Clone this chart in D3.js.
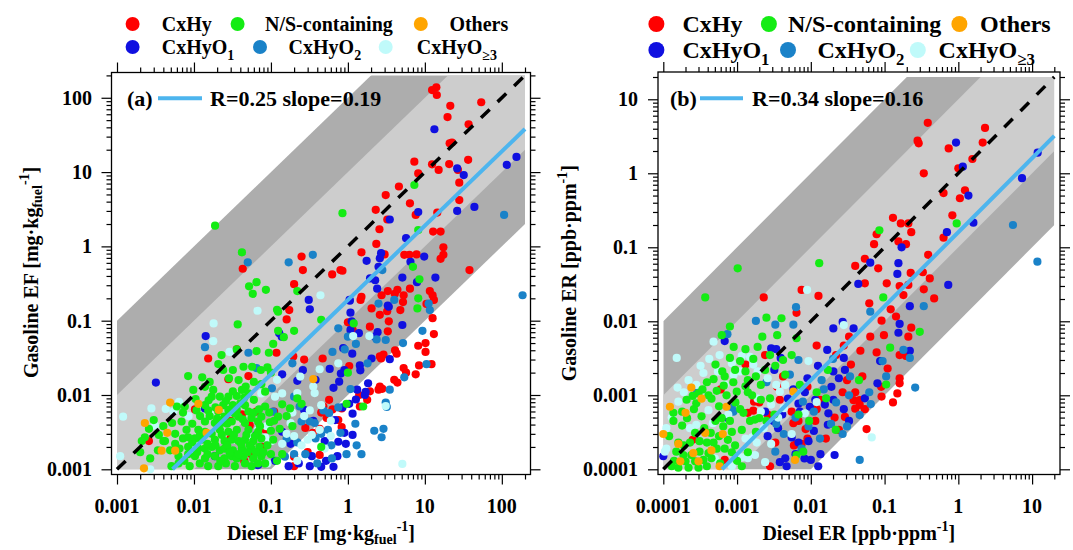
<!DOCTYPE html>
<html>
<head>
<meta charset="utf-8">
<script src="https://cdn.jsdelivr.net/npm/d3@7"></script>
<style>
  body { margin: 0; background: #fff; }
  text { font-family: "Liberation Serif", "Times New Roman", serif; font-weight: bold; fill: #000; }
</style>
</head>
<body>
<svg id="chart" width="1073" height="550"></svg>
<script>
// categories & colours
const categories = ["CxHy", "N/S-containing", "Others", "CxHyO", "CxHyO", "CxHyO"];
const catSubs = ["", "", "", "1", "2", "\u22653"];
const catColors = ["#ff0000", "#14ec14", "#ffa500", "#1010e0", "#1a82c8", "#c0fafa"];
const drawOrder = [0, 3, 4, 5, 1, 2];

// tick labels
const majorA = [0.001, 0.01, 0.1, 1, 10, 100];
const labelsA = ["0.001", "0.01", "0.1", "1", "10", "100"];
const majorB = [0.0001, 0.001, 0.01, 0.1, 1, 10];
const labelsB = ["0.0001", "0.001", "0.01", "0.1", "1", "10"];

// fit results
const fitR = [0.25, 0.34];
const fitSlope = [0.19, 0.16];

// ---------- panel (a): EF, mg/kg fuel  [diesel, gasoline] ----------
const cxhyA = [
  [12.4,127],[14.1,138],[14.3,109],[21.4,78],[54,87],[19.7,55],[37,44],[21,24.4],[22.5,25],[7.3,13.8],
  [12.4,12.7],[15.1,10.7],[20.7,12.8],[26.9,10.7],[8.2,9.6],[36.5,14.6],[28,7.2],[28,4.2],[4.6,6.4],[6.4,3.8],
  [7.6,2.65],[14.5,2.85],[3.1,4.9],[3.25,2.3],[2.3,3.1],[2.57,1.7],[12.8,1.58],[16,1.58],[17.4,0.97],[17.4,0.77],
  [16,0.68],[38,0.48],[2.34,1.08],[3.0,0.78],[1.5,0.83],[5.4,0.77],[6.3,0.77],[7.8,0.78],[0.625,0.42],[0.8,0.48],
  [0.85,0.47],[0.25,0.73],[0.26,0.48],[0.2,0.31],[0.043,0.5],
  [1.5,0.21],[2.74,0.22],[3.3,0.25],[4.07,0.23],[4.4,0.26],[5.3,0.22],[6.4,0.27],[11.6,0.25],[12.6,0.22],[13.1,0.19],
  [1.46,0.19],[2.03,0.146],[2.6,0.12],[3.24,0.134],[3.4,0.098],[4.8,0.139],[5.2,0.178],[10.5,0.168],[12.6,0.108],[1.93,0.083],
  [3.3,0.072],[1.0,0.095],[1.15,0.075],[13.1,0.066],[8.2,0.046],[10.2,0.05],[10.2,0.038],[8.4,0.025],[12.2,0.026],[7.6,0.019],
  [4.1,0.04],[4.3,0.036],[2.7,0.031],[2.9,0.035],[5.3,0.023],[5.7,0.02],[4.0,0.016],[4.4,0.0147],[2.6,0.013],[2.5,0.0118],
  [2.8,0.0121],[1.93,0.0112],[2.6,0.033],[1.78,0.0086],[1.43,0.007],[1.4,0.01],[0.83,0.0066],[0.63,0.0064],[0.45,0.0058],[0.53,0.0049],
  [0.75,0.0046],[0.83,0.0037],[0.43,0.0035],[0.35,0.0031],[0.43,0.00156],[0.3,0.0017],[0.28,0.0036],[0.2,0.00148],[0.57,0.0086],[0.48,0.007],
  [0.27,0.03],[0.47,0.031],[1.04,0.0245],[0.195,0.033],[0.173,0.139],[0.16,0.104],
  [0.0153,0.031],[0.118,0.037],[0.028,0.0163],[0.051,0.018],[0.0103,0.0064],[0.065,0.006],[0.076,0.002],[0.0026,0.0024],
  [0.053,0.0039],[0.042,0.0055],[0.056,0.0016],[0.036,0.041],
  [0.03,0.0045],[0.085,0.0034],[0.11,0.006],[0.16,0.0029],[0.03,0.0026],[0.045,0.0013],[0.2,0.0011]
];
const nsA = [
  [0.0188,1.9],[0.042,0.83],[0.052,0.29],[0.058,0.23],[0.065,0.33],[0.086,0.26],[0.85,2.8],[7.3,6.7],[8.2,1.66],[7.0,0.53],
  [8.5,0.36],[8.2,0.2],[0.22,0.25],[0.12,0.14],[8.0,0.146],[1.19,0.092],[1.0,0.02],[0.96,0.0076],[1.58,0.007],[0.25,0.0076],
  [0.177,0.0066],[0.45,0.002],[0.147,0.06],[0.2,0.073],[0.45,0.103],[0.11,0.0045],[0.13,0.0035],[0.12,0.0013],[0.14,0.0016],[0.16,0.0052],
  [0.19,0.0038],[0.14,0.0075],[0.22,0.009],[0.004,0.0024],[0.002,0.0017],
  [0.037,0.089],[0.124,0.132],[0.107,0.0487],[0.094,0.037],[0.065,0.039],[0.0228,0.0345],[0.036,0.041],[0.124,0.073],
  [0.0084,0.018],[0.0128,0.0173],[0.024,0.0217],[0.0285,0.0168],[0.038,0.0159],[0.044,0.024],[0.057,0.024],[0.074,0.0217],[0.09,0.0235],[0.0207,0.0261],[0.032,0.0217],
  [0.0098,0.0117],[0.0139,0.0129],[0.0178,0.0117],[0.0217,0.0095],[0.028,0.0095],[0.036,0.0097],[0.017,0.0095],[0.042,0.0117],[0.051,0.0105],[0.084,0.0111],
  [0.006,0.007],[0.0076,0.007],[0.0108,0.0062],[0.0139,0.0073],[0.0153,0.0062],[0.0207,0.006],[0.024,0.0073],[0.032,0.0073],[0.04,0.0077],[0.028,0.0063],
  [0.036,0.0063],[0.046,0.0073],[0.051,0.006],[0.084,0.007],
  [0.003,0.0046],[0.004,0.0038],[0.0069,0.0044],[0.008,0.0034],[0.0114,0.0034],[0.0139,0.0044],[0.016,0.0052],[0.0187,0.0042],[0.0228,0.0042],[0.025,0.0051],
  [0.031,0.0044],[0.038,0.0051],[0.046,0.0042],[0.056,0.0049],[0.068,0.0044],[0.075,0.0051],[0.097,0.0043],[0.124,0.0051],
  [0.0026,0.0035],[0.0023,0.0027],[0.0042,0.0024],[0.0057,0.003],[0.0072,0.0026],[0.0084,0.0027],[0.0103,0.0026],[0.0125,0.0025],[0.0139,0.0032],[0.017,0.003],
  [0.0187,0.0025],[0.0217,0.0034],[0.025,0.0024],[0.028,0.0032],[0.031,0.0025],[0.036,0.0034],[0.038,0.0024],[0.046,0.0025],[0.051,0.0034],[0.059,0.0024],
  [0.068,0.0032],[0.075,0.0026],[0.107,0.0025],
  [0.0021,0.0024],[0.0034,0.0018],[0.0049,0.0018],[0.0057,0.0022],[0.0084,0.002],[0.0114,0.0019],[0.0139,0.0019],[0.017,0.002],[0.0217,0.0018],[0.025,0.0019],
  [0.032,0.0018],[0.042,0.0019],[0.056,0.0019],[0.071,0.002],
  [0.0027,0.0014],[0.0051,0.0011],[0.0063,0.0015],[0.0063,0.0012],[0.0084,0.0016],[0.0088,0.0011],[0.0103,0.0015],[0.0119,0.0012],[0.0139,0.0014],[0.0153,0.0011],
  [0.0187,0.0015],[0.0207,0.0011],[0.025,0.0014],[0.026,0.0012],[0.031,0.0015],[0.034,0.0011],[0.036,0.0014],[0.044,0.0015],[0.046,0.0012],[0.056,0.0011],
  [0.059,0.0014],[0.068,0.0012],[0.075,0.0015],[0.084,0.0012],
  [0.0065,0.0019],[0.0095,0.0023],[0.012,0.0029],[0.015,0.0022],[0.019,0.0021],[0.023,0.0029],[0.027,0.0021],[0.033,0.0029],[0.041,0.0022],[0.048,0.0029],
  [0.053,0.0021],[0.062,0.0028],[0.09,0.0021],[0.0095,0.0041],[0.012,0.0052],[0.02,0.0048],[0.027,0.0041],[0.034,0.0056],[0.043,0.0047],[0.06,0.0058],
  [0.072,0.0038],[0.0155,0.0085],[0.019,0.0068],[0.026,0.0083],[0.032,0.0112],[0.045,0.0092],[0.06,0.0086],[0.07,0.0064],[0.095,0.0058],[0.1,0.0033],
  [0.015,0.0016],[0.022,0.0013],[0.029,0.0017],[0.038,0.0016],[0.05,0.0017],[0.064,0.0017],[0.08,0.0017],[0.1,0.0016],[0.0075,0.0013],[0.011,0.0017],
  [0.06,0.015],[0.075,0.014],[0.1,0.02],[0.047,0.013],[0.016,0.015],[0.0105,0.0088],[0.0072,0.0058],[0.0052,0.0042],[0.0035,0.0029]
];
const othersA = [
  [0.0049,0.0079],[0.0114,0.0076],[0.021,0.0063],[0.0023,0.0042],[0.0045,0.0031],[0.0038,0.00178],[0.0057,0.00178],
  [0.00224,0.00103],[0.0146,0.0031],[0.355,0.0164]
];
const o1A = [
  [13.3,37.7],[26.3,11.2],[32,9.1],[8.2,2.9],[26.3,3.0],[44,3.4],[3.5,2.3],[5.7,1.29],[6.5,0.62],[9.8,0.73],
  [2.7,0.81],[2.6,0.69],[1.75,0.64],[2.5,0.53],[1.94,0.37],[2.26,0.35],[5.1,0.38],[7.9,0.33],[13.7,0.38],[2.4,0.27],
  [3.4,0.154],[1.05,0.19],[0.31,0.19],[116,12.5],[155,16],
  [0.32,0.142],[1.08,0.128],[1.12,0.098],[1.06,0.186],[3.3,0.16],[5.1,0.0875],[1.39,0.068],[1.08,0.075],[2.43,0.07],[2.24,0.061],
  [1.14,0.036],[0.87,0.0426],[0.58,0.0224],[0.81,0.0194],[0.9,0.0216],[0.77,0.0151],[1.43,0.025],[1.45,0.0215],[2.03,0.031],[3.5,0.0303],
  [1.83,0.0144],[1.32,0.0118],[1.66,0.01],[1.27,0.0087],[0.22,0.0155],[0.65,0.0125],[1.04,0.0076],[0.85,0.0068],[1.15,0.0056],[0.355,0.0045],
  [0.68,0.0046],[0.75,0.00235],[0.94,0.0022],[1.15,0.0029],[0.73,0.0015],[0.65,0.00108],[0.45,0.00108],[0.32,0.0011],[0.17,0.0011],[0.34,0.0015],
  [0.26,0.0216],[0.38,0.016],[1.7,0.011],[0.138,0.061],
  [0.0032,0.0147],[0.0142,0.062],[0.0139,0.0066],[0.128,0.068],[0.068,0.00114],[0.113,0.0013],[0.0187,0.0015],[0.065,0.0029],
  [0.18,0.0022],[0.5,0.0024],[0.52,0.0013],[0.23,0.0012],[0.14,0.0032],[0.9,0.0031],[0.27,0.0063],[0.14,0.019]
];
const o2A = [
  [0.05,0.61],[0.17,0.61],[0.35,0.77],[2.8,0.48],[107,2.65],[186,0.22],[11.2,0.17],[2.5,0.17],[4.0,0.19],
  [11.6,0.139],[0.75,0.079],[1.0,0.061],[1.27,0.0486],[2.36,0.056],[3.1,0.055],[5.2,0.05],[9.3,0.073],[10.5,0.026],[5.4,0.0173],
  [3.5,0.0118],[3.1,0.0079],[3.2,0.0069],[2.2,0.0033],[2.9,0.0035],[2.74,0.0027],[1.5,0.0016],[0.63,0.038],[0.91,0.041],[1.8,0.0267],
  [1.08,0.012],[0.75,0.0068],[0.48,0.0062],[0.57,0.0057],[0.25,0.0044],[0.32,0.0044],[0.152,0.00148],[0.2,0.0016],[0.28,0.0016],[0.96,0.0016],
  [0.61,0.0021],[0.2,0.0095],
  [0.0139,0.044],[0.051,0.037],[0.065,0.023],[0.107,0.006],[0.103,0.0123],[0.19,0.0267],[0.236,0.007],[0.37,0.0042],
  [0.38,0.0026],[0.22,0.0023],[0.45,0.003],[0.55,0.0034],[0.62,0.0014],[0.16,0.0026],[0.4,0.0012],[1.25,0.0041],[1.3,0.0021],[0.8,0.0031]
];
const o3A = [
  [0.44,0.22],[0.75,0.0267],[0.43,0.0222],[1.17,0.062],[1.9,0.062],[0.355,0.013],[0.37,0.0106],[0.22,0.0106],[0.45,0.0073],[0.32,0.0062],
  [0.34,0.0029],[0.43,0.0034],[3.1,0.0071],[5.1,0.00118],[0.24,0.0177],
  [0.0011,0.0015],[0.0028,0.0066],[0.0031,0.0039],[0.0064,0.0081],[0.0178,0.053],[0.029,0.038],[0.067,0.136],[0.032,0.0025],[0.068,0.0034],[0.084,0.0027],
  [0.102,0.0024],[0.0108,0.002],[0.113,0.0095],[0.0027,0.001],[0.0054,0.006],[0.051,0.0029],[0.088,0.0038],[0.075,0.0105],
  [0.018,0.092],[0.12,0.016],[0.0012,0.0051],[0.18,0.0042],[0.16,0.003],
  [0.14,0.0022],[0.2,0.0028],[0.25,0.0021],[0.3,0.0025],[0.5,0.0019],[0.6,0.0028],[0.27,0.0052],[0.19,0.0058],[0.14,0.0105],[0.6,0.0045],
  [0.09,0.0012],[0.22,0.0013],[0.0085,0.0052],[0.0043,0.0065],[0.016,0.0058]
];

// ---------- panel (b): ER, ppb/ppm  [diesel, gasoline] ----------
const cxhyB = [
  [0.385,4.8],[0.28,2.76],[0.29,2.54],[2.3,4.1],[2.14,2.6],[0.74,2.17],[1.55,1.56],[1.0,1.17],[0.34,1.0],[0.63,0.54],
  [1.23,0.59],[1.05,0.46],[0.83,0.27],[0.13,0.25],[0.166,0.21],[0.21,0.21],[0.23,0.16],[0.078,0.15],[0.072,0.11],[0.154,0.12],
  [0.195,0.11],[0.63,0.135],[0.39,0.079],[0.04,0.056],[0.054,0.07],[0.082,0.052],[0.054,0.0326],[0.107,0.0326],[0.16,0.03],[0.21,0.031],
  [0.18,0.0226],[0.226,0.045],[0.33,0.046],[0.41,0.038],[0.34,0.027],[0.47,0.0204],[0.062,0.0175],[0.121,0.0145],[0.143,0.0116],[0.091,0.0102],
  [0.23,0.0082],[0.064,0.0062],[0.098,0.0065],[0.21,0.0062],[0.16,0.0035],[0.195,0.0034],[0.047,0.004],[0.078,0.0038],[0.11,0.0023],[0.09,0.0013],
  [0.091,0.00096],[0.13,0.0008],[0.149,0.00106],[0.16,0.00145],[0.16,0.0017],[0.05,0.0018],[0.04,0.0011],[0.046,0.00086],[0.046,0.00074],[0.029,0.00051],
  [0.038,0.00086],[0.057,0.00035],[0.04,0.00066],[0.054,0.00065],[0.028,0.0047],[0.033,0.0062],
  [0.0023,0.021],[0.0075,0.0265],[0.0127,0.022],[0.0064,0.013],[0.012,0.0047],[0.0024,0.0035],[0.0017,0.00082],[0.002,0.0008],[0.00166,0.00062],[0.0014,0.00058],
  [0.0038,0.00087],[0.0055,0.0006],[0.0068,0.00045],[0.0028,0.00011],[0.00068,0.000134],[0.0133,0.00087],[0.0013,0.0026],[0.0006,0.0012],[0.00025,0.00025],[0.0058,0.00042],
  [0.0064,0.00022],[0.0075,0.00022],[0.021,0.0005],[0.009,0.00026],[0.0115,0.00045],[0.0059,0.00021],
  [0.0035,0.0013],[0.0042,0.0018],[0.009,0.0013],[0.012,0.00065],[0.016,0.00026],[0.024,0.00034],[0.027,0.0011],[0.031,0.0016],[0.035,0.0026],[0.022,0.0035],
  [0.0033,0.00023],[0.0085,0.00035],[0.0026,0.00055]
];
const nsB = [
  [0.085,0.17],[0.95,0.21],[0.096,0.021],[0.3,0.0072],[0.119,0.0044],[0.045,0.0016],[0.105,0.0014],
  [0.00102,0.052],[0.00037,0.021],[0.013,0.061],[0.0161,0.00091],[0.0218,0.00034],[0.0064,0.000156],
  [0.0008,0.0085],[0.00062,0.0065],[0.0025,0.0112],[0.004,0.011],[0.0064,0.0059],[0.0055,0.0035],[0.0028,0.0035],
  [0.00051,0.0026],[0.0008,0.0032],[0.0011,0.0029],[0.00166,0.0031],[0.00063,0.0021],[0.00094,0.0022],[0.0013,0.0021],
  [0.00048,0.00165],[0.00068,0.0018],[0.00089,0.0015],[0.0014,0.0016],[0.0021,0.00138],[0.00039,0.0015],
  [0.0003,0.00106],[0.00041,0.001],[0.00053,0.00115],[0.00072,0.001],[0.00099,0.00112],[0.0013,0.00132],[0.0016,0.001],[0.0021,0.00087],[0.0028,0.00091],
  [0.0045,0.0019],[0.0071,0.00138],
  [0.000207,0.00087],[0.00028,0.00078],[0.000137,0.00058],[0.00018,0.0006],[0.000137,0.00045],[0.00051,0.00045],[0.00062,0.00049],[0.0008,0.00045],
  [0.00065,0.00038],[0.00085,0.00032],[0.00116,0.00034],[0.00122,0.00058],[0.0015,0.00045],[0.00175,0.00047],[0.002,0.00049],[0.0068,0.00055],
  [0.00016,0.00023],[0.00023,0.00023],[0.00031,0.00024],[0.00039,0.00023],[0.00048,0.00023],[0.00053,0.00019],[0.00068,0.00019],[0.00094,0.00021],
  [0.00015,0.000173],[0.000187,0.000156],[0.00024,0.000156],[0.00031,0.000173],[0.00041,0.000165],
  [0.0002,0.000128],[0.00027,0.000128],[0.00035,0.000134],[0.00045,0.000141],[0.00059,0.00012],
  [0.00013,0.00011],[0.00016,0.000105],[0.00022,0.000105],[0.0003,0.000105],[0.00039,0.00011],[0.00116,0.00011],[0.0079,0.000173],
  [0.00012,0.00028],[0.00014,0.00013],[0.00018,0.00039],[0.00021,0.00049],[0.00026,0.00065],[0.00033,0.00052],[0.00036,0.00036],[0.00044,0.00031],
  [0.00057,0.00028],[0.00075,0.00025],[0.00057,0.00071],[0.00045,0.0009],[0.00034,0.0012],[0.00025,0.00098],[0.00066,0.00135],[0.00095,0.0008],
  [0.0011,0.00065],[0.0014,0.0011],[0.0018,0.0018],[0.0024,0.0022],[0.0033,0.0025],[0.0042,0.003],[0.0019,0.0045],[0.0013,0.0042],
  [0.0009,0.0045],[0.0035,0.0065],[0.0022,0.0062],[0.00085,0.00017],[0.001,0.00013],[0.0014,0.00017],[0.0018,0.00032],[0.0025,0.00045],
  [0.0032,0.00055],[0.0095,0.00045],[0.012,0.0011],[0.017,0.0022],[0.00019,0.00021],[0.00027,0.00031]
];
const othersB = [
  [0.00024,0.00127],[0.000123,0.0007],[0.0002,0.00058],[0.0001,0.0003],[0.00037,0.00031],[0.00064,0.0003],
  [0.000255,0.000165],[0.0003,0.000128],[0.00017,0.000128],[0.0061,0.000134],[0.0058,0.00112],[0.00072,0.0007],
  [0.00033,0.0009],[0.00016,0.00022],[0.00058,0.00011],[0.00045,0.00018]
];
const o1B = [
  [0.93,2.6],[1.15,1.23],[1.37,0.5],[1.6,0.215],[0.7,0.16],[0.17,0.1],[0.154,0.061],[0.149,0.0436],[0.064,0.062],[0.044,0.032],
  [0.22,0.016],[0.73,0.031],[11.9,1.9],[7.3,0.86],[0.16,0.0092],[0.154,0.007],[0.22,0.004],[0.087,0.0029],[0.08,0.00145],[0.038,0.008],
  [0.028,0.0032],[0.029,0.0022],[0.054,0.00091],[0.027,0.0098],
  [0.00068,0.0054],[0.0029,0.0043],[0.0034,0.0042],[0.0039,0.0032],[0.0001,0.00015],[0.00072,0.0005],[0.0024,0.0006],[0.0068,0.00077],
  [0.0071,0.0006],[0.0115,0.00087],[0.0036,0.00036],[0.0055,0.00027],[0.0068,0.00023],[0.0093,0.00024],[0.0045,0.000141],[0.0047,0.00011],
  [0.0126,0.00011],[0.01,0.000134],[0.0173,0.00057],[0.0202,0.00087],[0.0167,0.0041],[0.0202,0.008],[0.00099,0.000141],[0.0202,0.0021],
  [0.021,0.000156],[0.017,0.0004],
  [0.0026,0.00028],[0.0031,0.00045],[0.0041,0.00055],[0.0049,0.0009],[0.0058,0.0012],[0.0083,0.0011],[0.0097,0.0007],[0.011,0.00033],
  [0.0135,0.00016],[0.0155,0.00075],[0.019,0.0013],[0.024,0.0017],[0.028,0.00065],[0.033,0.00045],[0.0038,0.000125],[0.0062,0.00016],
  [0.0082,0.00014],[0.0125,0.0025],[0.009,0.0017],[0.0032,0.0022]
];
const o2B = [
  [5.5,0.2],[11.8,0.064],[0.34,0.016],[0.064,0.0135],[0.18,0.0041],[0.22,0.0032],[0.094,0.0029],[0.105,0.0018],[0.034,0.0018],[0.062,0.0011],
  [0.065,0.00076],[0.033,0.001],[0.26,0.00127],[0.046,0.00054],[0.031,0.00038],[0.046,0.000134],
  [0.0063,0.0155],[0.00074,0.0067],[0.0058,0.009],[0.0033,0.009],[0.0018,0.0101],[0.0068,0.003],[0.00028,0.00123],[0.00085,0.00067],
  [0.00089,0.0006],[0.0034,0.00041],[0.0093,0.00038],[0.0133,0.00026],[0.0188,0.00041],[0.0033,0.000173],[0.00099,0.00015],
  [0.0043,0.0003],[0.0062,0.0005],[0.0078,0.00082],[0.011,0.0006],[0.015,0.0012],[0.022,0.0008],[0.027,0.0003],[0.0075,0.00019],
  [0.0025,0.0015],[0.0052,0.0019],[0.02,0.0031],[0.014,0.0016]
];
const o3B = [
  [0.028,0.0089],[0.067,0.00027],[0.0089,0.0265],
  [0.000152,0.0032],[0.000156,0.00127],[0.00016,0.00082],[0.00048,0.0053],[0.00035,0.002],[0.00028,0.00138],[0.00068,0.0014],
  [0.00055,0.0021],[0.00116,0.0034],[0.0015,0.0033],[0.0011,0.0021],[0.00166,0.0026],[0.0034,0.00138],[0.0045,0.00138],[0.0038,0.00112],
  [0.0093,0.0029],[0.00011,0.00036],[0.00023,0.00036],[0.00028,0.0004],[0.00041,0.00063],[0.00076,0.00055],[0.0013,0.00026],[0.0016,0.00027],
  [0.00185,0.00023],[0.0023,0.00036],[0.00116,0.000145],[0.0014,0.000141],[0.00175,0.000156],[0.0055,0.0003],[0.012,0.00081],[0.0083,0.00057],
  [0.0029,0.00022],[0.00011,0.00019],[0.000105,0.000173],
  [0.00013,0.0005],[0.00019,0.0011],[0.00022,0.0016],[0.00032,0.0025],[0.00042,0.0031],[0.00058,0.0035],[0.00085,0.0027],[0.0019,0.0021],
  [0.0026,0.0017],[0.0009,0.0019],[0.0021,0.0006],[0.0029,0.00075],[0.0036,0.0005],[0.0043,0.00067],[0.0005,0.00014],[0.00085,0.00011],
  [0.0024,0.000125],[0.0019,0.0009],[0.00047,0.00042]
];

const svg = d3.select("#chart");

const panels = [
  {
    series: [cxhyA, nsA, othersA, o1A, o2A, o3A],
    domain: [0.001, 200], xr: [117, 525], yr: [469.3, 75.4],
    frame: { x0: 111.5, x1: 530.5, y0: 72.5, y1: 474.5 },
    major: majorA, labels: labelsA, yLabX: 92, yTitleX: 38,
    xTitle: [["Diesel EF [mg\u00b7kg"], ["fuel", "sub"], ["-1", "sup"], ["]"]],
    yTitle: [["Gasoline EF [mg\u00b7kg"], ["fuel", "sub"], ["-1", "sup"], ["]"]],
    legFont: 20, legR: 7, legRows: [24, 47],
    legDot: [132.6, 237.6, 420.8, 132.6, 260, 385.7],
    legText: [161.8, 265, 449.4, 161.8, 288.6, 416.7],
    tag: "(a)", tagX: 127, fitSeg: [158, 202], fitTextX: 210, fitY: 98.3
  },
  {
    series: [cxhyB, nsB, othersB, o1B, o2B, o3B],
    domain: [0.0001, 20], xr: [663.3, 1054.3], yr: [469.3, 77],
    frame: { x0: 658, x1: 1060, y0: 72, y1: 474.5 },
    major: majorB, labels: labelsB, yLabX: 638, yTitleX: 576,
    xTitle: [["Diesel ER [ppb\u00b7ppm"], ["-1", "sup"], ["]"]],
    yTitle: [["Gasoline ER [ppb\u00b7ppm"], ["-1", "sup"], ["]"]],
    legFont: 24, legR: 8, legRows: [24, 50],
    legDot: [656.4, 768.9, 959.4, 656.4, 788, 917.8],
    legText: [682.4, 788, 980, 682.4, 817.4, 938.6],
    tag: "(b)", tagX: 670, fitSeg: [700, 743], fitTextX: 752, fitY: 98.3
  }
];

function richText(sel, parts, size) {
  let cur = 0;
  parts.forEach(([t, kind]) => {
    const target = kind === "sub" ? size * 0.22 : kind === "sup" ? -size * 0.45 : 0;
    sel.append("tspan")
      .attr("dy", target - cur)
      .attr("font-size", kind ? size * 0.7 : size)
      .text(t);
    cur = target;
  });
}

panels.forEach((p, pi) => {
  const g = svg.append("g");
  const [dmin, dmax] = p.domain;
  const x = d3.scaleLog().domain(p.domain).range(p.xr);
  const y = d3.scaleLog().domain(p.domain).range(p.yr);
  const line = d3.line().x(d => x(d[0])).y(d => y(d[1]));

  // clip for the factor bands
  const clipId = "clip" + pi;
  g.append("clipPath").attr("id", clipId)
    .append("rect")
    .attr("x", x(dmin)).attr("y", y(dmax))
    .attr("width", x(dmax) - x(dmin)).attr("height", y(dmin) - y(dmax));

  // factor-of-100 and factor-of-10 bands around 1:1
  [[100, "#adadad"], [10, "#cdcdcd"]].forEach(([k, col]) => {
    const poly = [[dmin, dmin * k], [dmax, dmax * k], [dmax, dmax / k], [dmin, dmin / k]];
    g.append("path")
      .attr("d", line(poly) + "Z")
      .attr("fill", col)
      .attr("clip-path", `url(#${clipId})`);
  });

  // points
  drawOrder.forEach(ci => {
    g.append("g").selectAll("circle")
      .data(p.series[ci])
      .enter().append("circle")
      .attr("cx", d => x(d[0]))
      .attr("cy", d => y(d[1]))
      .attr("r", 4.1)
      .attr("fill", catColors[ci]);
  });

  // 1:1 line
  g.append("path")
    .attr("d", line([[dmin, dmin], [dmax, dmax]]))
    .attr("stroke", "#000").attr("stroke-width", 3.5)
    .attr("stroke-dasharray", "12,11").attr("fill", "none");

  // fit line
  const s = fitSlope[pi];
  g.append("path")
    .attr("d", line([[dmin / s, dmin], [dmax, dmax * s]]))
    .attr("stroke", "#4db5ee").attr("stroke-width", 4).attr("fill", "none");

  // frame
  const f = p.frame;
  g.append("rect")
    .attr("x", f.x0).attr("y", f.y0)
    .attr("width", f.x1 - f.x0).attr("height", f.y1 - f.y0)
    .attr("fill", "none").attr("stroke", "#000").attr("stroke-width", 1.3);

  // ticks: minor and major on all four sides
  const allTicks = x.ticks(10);
  const minor = allTicks.filter(v => Math.abs(Math.log10(v) - Math.round(Math.log10(v))) > 1e-9);
  const sides = [
    [d3.axisBottom(x), `translate(0,${f.y1})`],
    [d3.axisTop(x), `translate(0,${f.y0})`],
    [d3.axisLeft(y), `translate(${f.x0},0)`],
    [d3.axisRight(y), `translate(${f.x1},0)`]
  ];
  sides.forEach(([ax, tr]) => {
    [[minor, 5], [p.major, 10]].forEach(([vals, len]) => {
      const a = g.append("g").attr("transform", tr)
        .call(ax.tickValues(vals).tickSize(len).tickSizeOuter(0).tickFormat(() => ""));
      a.select(".domain").remove();
      a.selectAll("line").attr("stroke", "#000").attr("stroke-width", 1.2);
    });
  });

  // tick labels
  g.append("g").selectAll("text").data(p.major).enter().append("text")
    .attr("x", d => x(d)).attr("y", 513)
    .attr("text-anchor", "middle").attr("font-size", 20)
    .text((d, i) => p.labels[i]);
  g.append("g").selectAll("text").data(p.major).enter().append("text")
    .attr("x", p.yLabX).attr("y", d => y(d) + 7)
    .attr("text-anchor", "end").attr("font-size", 20)
    .text((d, i) => p.labels[i]);

  // axis titles
  const cx = (p.xr[0] + p.xr[1]) / 2;
  const cy = (p.yr[0] + p.yr[1]) / 2;
  richText(g.append("text").attr("x", cx).attr("y", 540).attr("text-anchor", "middle"), p.xTitle, 20);
  richText(g.append("text").attr("transform", `translate(${p.yTitleX},${cy}) rotate(-90)`)
    .attr("text-anchor", "middle"), p.yTitle, 20);

  // fit annotation
  g.append("text").attr("x", p.tagX).attr("y", p.fitY + 7.5).attr("font-size", 22).text(p.tag);
  g.append("line")
    .attr("x1", p.fitSeg[0]).attr("x2", p.fitSeg[1])
    .attr("y1", p.fitY).attr("y2", p.fitY)
    .attr("stroke", "#4db5ee").attr("stroke-width", 4);
  g.append("text").attr("x", p.fitTextX).attr("y", p.fitY + 7.5).attr("font-size", 22)
    .text(`R=${fitR[pi].toFixed(2)} slope=${fitSlope[pi].toFixed(2)}`);

  // legend
  categories.forEach((c, ci) => {
    const ry = p.legRows[ci < 3 ? 0 : 1];
    g.append("circle").attr("cx", p.legDot[ci]).attr("cy", ry).attr("r", p.legR).attr("fill", catColors[ci]);
    const t = g.append("text").attr("x", p.legText[ci]).attr("y", ry + p.legFont * 0.34).attr("font-size", p.legFont);
    t.append("tspan").text(c);
    if (catSubs[ci]) {
      t.append("tspan").attr("font-size", p.legFont * 0.7).attr("dy", p.legFont * 0.3).text(catSubs[ci]);
    }
  });
});
</script>
</body>
</html>
